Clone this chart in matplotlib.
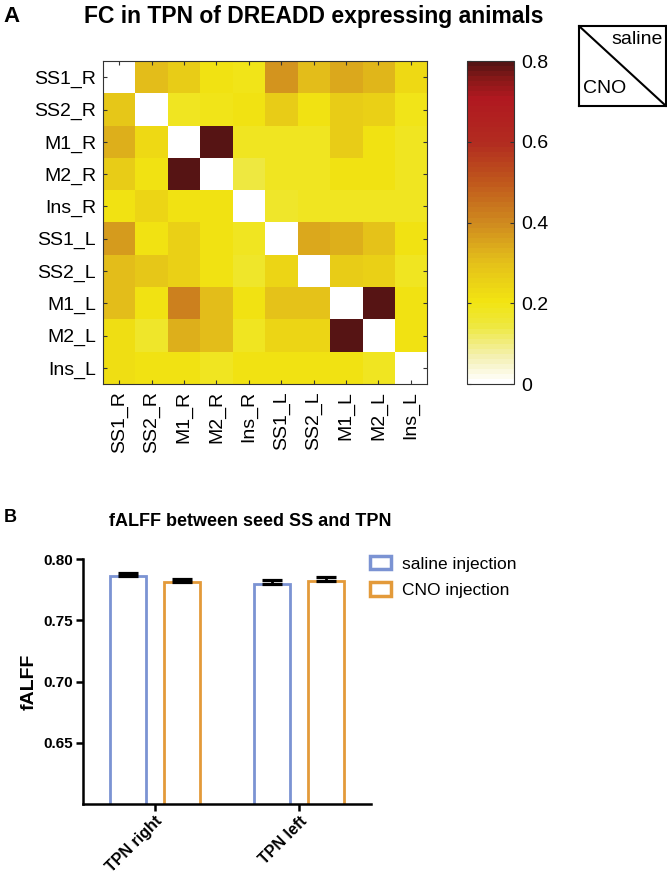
import numpy as np
import matplotlib
matplotlib.use("Agg")
import matplotlib.pyplot as plt
from matplotlib.colors import LinearSegmentedColormap
from matplotlib.patches import Patch

plt.rcParams['font.family'] = ['Liberation Sans', 'DejaVu Sans']

# --- data -----------------------------------------------------------------
regions = ["SS1_R", "SS2_R", "M1_R", "M2_R", "Ins_R",
           "SS1_L", "SS2_L", "M1_L", "M2_L", "Ins_L"]

# upper triangle = saline, lower triangle = CNO, diagonal left empty
fc_matrix = np.array([
    [np.nan, 0.31, 0.27, 0.21, 0.19, 0.38, 0.31, 0.35, 0.32, 0.23],
    [0.28, np.nan, 0.18, 0.19, 0.20, 0.27, 0.21, 0.27, 0.25, 0.19],
    [0.33, 0.23, np.nan, 0.80, 0.18, 0.18, 0.18, 0.27, 0.20, 0.18],
    [0.27, 0.20, 0.80, np.nan, 0.15, 0.18, 0.18, 0.20, 0.21, 0.18],
    [0.20, 0.24, 0.21, 0.20, np.nan, 0.17, 0.18, 0.18, 0.18, 0.18],
    [0.37, 0.21, 0.26, 0.20, 0.18, np.nan, 0.34, 0.33, 0.30, 0.21],
    [0.31, 0.28, 0.26, 0.20, 0.17, 0.24, np.nan, 0.27, 0.25, 0.18],
    [0.31, 0.21, 0.42, 0.31, 0.21, 0.29, 0.29, np.nan, 0.80, 0.20],
    [0.22, 0.17, 0.33, 0.31, 0.18, 0.24, 0.24, 0.80, np.nan, 0.20],
    [0.22, 0.20, 0.20, 0.18, 0.20, 0.20, 0.20, 0.20, 0.18, np.nan],
])

groups = ["TPN right", "TPN left"]
saline_falff = [0.786, 0.780]
saline_err = [0.0024, 0.0028]
cno_falff = [0.781, 0.782]
cno_err = [0.0030, 0.0030]

# colormap white -> yellow -> orange -> red -> dark red
fc_cmap = LinearSegmentedColormap.from_list("fc", [
    (0.00, "#ffffff"),
    (0.08, "#f4f0b0"),
    (0.18, "#eee83a"),
    (0.25, "#f2e412"),
    (0.375, "#e4c01a"),
    (0.50, "#cf8a1f"),
    (0.625, "#c0581c"),
    (0.75, "#b22c20"),
    (0.89, "#b01820"),
    (0.95, "#881818"),
    (1.00, "#561414"),
], N=64)
fc_cmap.set_bad("white")

fig = plt.figure(figsize=(6.67, 8.89), dpi=100)

# --- panel A: heatmap -------------------------------------------------------
ax_hm = fig.add_axes([0.1544, 0.568, 0.4858, 0.3633])
im = ax_hm.imshow(fc_matrix, cmap=fc_cmap, vmin=0, vmax=0.8,
                  aspect="auto", interpolation="nearest")
ax_hm.set_xticks(range(len(regions)))
ax_hm.set_yticks(range(len(regions)))
ax_hm.set_xticklabels(regions, rotation=90, fontsize=14)
ax_hm.set_yticklabels(regions, fontsize=14)
ax_hm.tick_params(direction="in", length=3, width=0.8, top=True, right=True,
                  color="#333333", pad=5)
for s in ax_hm.spines.values():
    s.set_linewidth(0.8)
    s.set_color("#333333")

ax_cb = fig.add_axes([0.700, 0.568, 0.0705, 0.3633])
cb = fig.colorbar(im, cax=ax_cb, ticks=[0, 0.2, 0.4, 0.6, 0.8])
cb.ax.set_yticklabels(["0", "0.2", "0.4", "0.6", "0.8"], fontsize=14)
cb.ax.tick_params(direction="in", length=3, width=0.8, left=True, right=True,
                  color="#333333", pad=5)
cb.outline.set_linewidth(0.8)
cb.outline.set_edgecolor("#333333")

# saline / CNO key
ax_key = fig.add_axes([0.868, 0.8808, 0.1305, 0.09])
ax_key.set_xlim(0, 1)
ax_key.set_ylim(0, 1)
ax_key.plot([0, 1], [1, 0], color="black", lw=1.5)
ax_key.text(0.96, 0.83, "saline", ha="right", va="center", fontsize=14)
ax_key.text(0.05, 0.22, "CNO", ha="left", va="center", fontsize=14)
ax_key.set_xticks([])
ax_key.set_yticks([])
for s in ax_key.spines.values():
    s.set_linewidth(1.5)

fig.text(0.005, 0.981, "A", fontsize=16, fontweight="bold", va="center")
fig.text(0.470, 0.981, "FC in TPN of DREADD expressing animals",
         fontsize=16.5, fontweight="bold", ha="center", va="center")

# --- panel B: bar chart -----------------------------------------------------
blue = "#7b93d3"
orange = "#e39a3a"
ax_bar = fig.add_axes([0.1244, 0.0956, 0.4318, 0.2756])
x = np.arange(len(groups))
offset = 0.1875
width = 0.25
ax_bar.bar(x - offset, saline_falff, width, color="white", edgecolor=blue,
           linewidth=2, zorder=2)
ax_bar.bar(x + offset, cno_falff, width, color="white", edgecolor=orange,
           linewidth=2, zorder=2)
ax_bar.errorbar(x - offset, saline_falff, yerr=[[0, 0], saline_err], fmt="none",
                ecolor="black", elinewidth=2, capsize=7, capthick=2.3, zorder=3)
ax_bar.errorbar(x + offset, cno_falff, yerr=[[0, 0], cno_err], fmt="none",
                ecolor="black", elinewidth=2, capsize=7, capthick=2.3, zorder=3)

ax_bar.set_xlim(-0.5, 1.5)
ax_bar.set_ylim(0.60, 0.80)
ax_bar.set_yticks([0.65, 0.70, 0.75, 0.80])
ax_bar.set_yticklabels(["0.65", "0.70", "0.75", "0.80"], fontsize=11,
                       fontweight="bold")
ax_bar.set_xticks(x)
ax_bar.set_xticklabels(groups, rotation=45, ha="right", rotation_mode="anchor",
                       fontsize=11.5, fontweight="bold")
ax_bar.tick_params(direction="out", length=5, width=1.8, pad=2)
ax_bar.spines["top"].set_visible(False)
ax_bar.spines["right"].set_visible(False)
ax_bar.spines["left"].set_linewidth(1.8)
ax_bar.spines["bottom"].set_linewidth(1.8)
ax_bar.set_ylabel("fALFF", fontsize=14, fontweight="bold")
ax_bar.yaxis.set_label_coords(-0.158, 0.5)

handles = [Patch(facecolor="white", edgecolor=blue, linewidth=2.5),
           Patch(facecolor="white", edgecolor=orange, linewidth=2.5)]
fig.legend(handles, ["saline injection", "CNO injection"],
           loc="upper left", bbox_to_anchor=(0.532, 0.392), frameon=False,
           fontsize=12.5, handlelength=1.2, handleheight=0.8,
           handletextpad=0.6, labelspacing=0.6)

fig.text(0.005, 0.418, "B", fontsize=13, fontweight="bold", va="center")
fig.text(0.375, 0.413, "fALFF between seed SS and TPN",
         fontsize=13, fontweight="bold", ha="center", va="center")

fig.savefig("out.png", dpi=100)
